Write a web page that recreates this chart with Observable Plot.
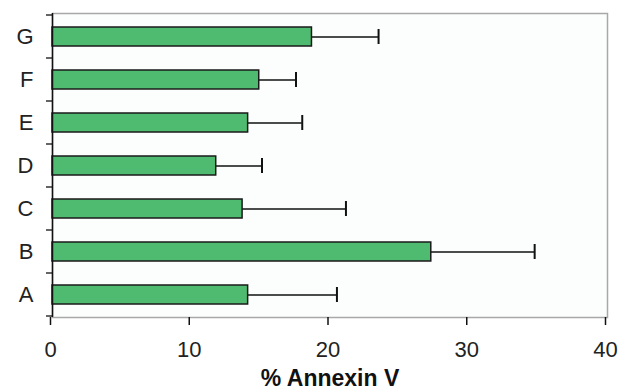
<!DOCTYPE html>
<html><head><meta charset="utf-8">
<script src="https://cdn.jsdelivr.net/npm/d3@7"></script>
<script src="https://cdn.jsdelivr.net/npm/@observablehq/plot@0.6"></script>
<style>
html,body{margin:0;padding:0;background:#fff;}
#chart svg{display:block;}
</style>
</head><body><div id="chart"></div>
<script>
const categories = ["A","B","C","D","E","F","G"];
const means = [14.1, 27.3, 13.7, 11.8, 14.1, 14.9, 18.7];
const errors = [6.4, 7.45, 7.45, 3.3, 3.9, 2.65, 4.8];
const xTicks = [0, 10, 20, 30, 40];
const xLabel = "% Annexin V";

const data = categories.map((c, i) => ({cat: c, mean: means[i], hi: means[i] + errors[i]}));

const boundaryTicks = (index, scales, values, dims) => {
  const y = scales.y, x = scales.x;
  const step = y.step(), bw = y.bandwidth();
  const g = d3.create("svg:g").attr("stroke", "#111").attr("stroke-width", 1.3);
  const x0 = x(0);
  const ys = categories.map(c => y(c) - (step - bw) / 2);
  ys.push(Math.max(...categories.map(c => y(c))) + bw + (step - bw) / 2);
  for (const yy of ys) g.append("line").attr("x1", x0 - 6).attr("x2", x0).attr("y1", yy).attr("y2", yy);
  return g.node();
};

const plot = Plot.plot({
  width: 626,
  height: 389,
  marginLeft: 52,
  marginRight: 19,
  marginTop: 13,
  marginBottom: 72,
  style: {fontFamily: "'Liberation Sans', Arial, sans-serif", fontSize: "22px", color: "#222", background: "#fff"},
  x: {domain: [0, 40], ticks: xTicks, label: null},
  y: {domain: categories, reverse: true, paddingInner: 0.56, paddingOuter: 0.28, label: null},
  marks: [
    Plot.frame({fill: "#fcfdfd", stroke: "#a8a8a8", strokeWidth: 1.5}),
    Plot.ruleY(data, {y: "cat", x1: "mean", x2: "hi", stroke: "#111", strokeWidth: 1.5}),
    Plot.tickX(data, {x: "hi", y: "cat", stroke: "#111", strokeWidth: 2, insetTop: 17, insetBottom: 17}),
    Plot.barX(data, {x: "mean", y: "cat", fill: "#4fbb70", stroke: "#1a1a1a", strokeWidth: 1.5}),
    Plot.ruleX([0], {stroke: "#111", strokeWidth: 1.5}),
    Plot.axisX({ticks: xTicks, tickSize: 8, tickPadding: 16, strokeWidth: 1.5, stroke: "#111", line: true, label: null, fill: "#222", fontSize: 22, dx: -2}),
    Plot.axisY({tickSize: 0, tickPadding: 19, label: null, fill: "#222", fontSize: 22}),
    boundaryTicks,
    Plot.text([xLabel], {frameAnchor: "bottom", dy: 68, text: d => d, fontWeight: "bold", fontSize: 23, fill: "#111"})
  ]
});
document.getElementById("chart").appendChild(plot);
</script>
</body></html>
